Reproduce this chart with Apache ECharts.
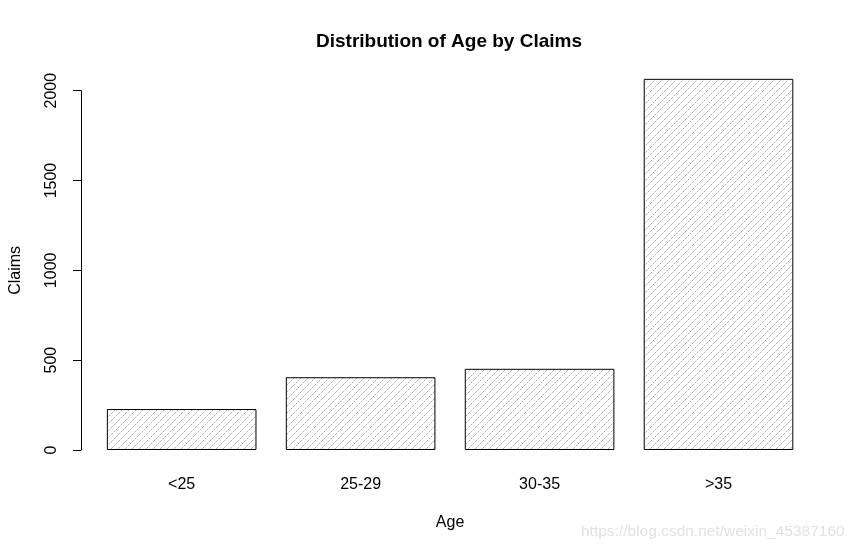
<!DOCTYPE html>
<html>
<head>
<meta charset="utf-8">
<script src="https://cdn.jsdelivr.net/npm/echarts@6/dist/echarts.min.js"></script>
<style>html,body{margin:0;padding:0;background:#fff}#c{width:861px;height:552px}</style>
</head>
<body>
<div id="c"></div>
<script>
var categories = ['<25', '25-29', '30-35', '>35'];
var claims = [228, 405, 452, 2066];
var yTicks = [0, 500, 1000, 1500, 2000];

// diagonal hatch pattern
var N = 7;
var pc = document.createElement('canvas');
pc.width = N; pc.height = N;
var px = pc.getContext('2d');
px.fillStyle = '#fff';
px.fillRect(0, 0, N, N);
for (var i = 0; i < N; i++) {
  px.fillStyle = (i % 2 === 0) ? '#b4b4b4' : '#e2e2e2';
  px.fillRect(i, N - 1 - i, 1, 1);
}

var chart = echarts.init(document.getElementById('c'), null, {renderer: 'canvas'});
var font = 'Liberation Sans, Arial, sans-serif';
chart.setOption({
  animation: false,
  backgroundColor: '#fff',
  title: {
    text: 'Distribution of Age by Claims',
    left: 444, top: 27, textAlign: 'center',
    textStyle: {fontFamily: font, fontSize: 19, fontWeight: 'bold', color: '#000'}
  },
  grid: {left: 89.5, right: 53, top: 90.7, bottom: 102, containLabel: false},
  xAxis: {
    type: 'category',
    data: categories,
    axisLine: {show: false},
    axisTick: {show: false},
    axisLabel: {margin: 27, fontFamily: font, fontSize: 16, color: '#000'},
    name: 'Age', nameLocation: 'middle', nameGap: 65,
    nameTextStyle: {fontFamily: font, fontSize: 16, color: '#000'}
  },
  yAxis: {
    type: 'value',
    min: yTicks[0], max: yTicks[yTicks.length - 1], interval: 500,
    offset: 11.2,
    splitLine: {show: false},
    axisLine: {show: true, lineStyle: {color: '#000', width: 1}},
    axisTick: {show: true, length: 8, lineStyle: {color: '#000'}},
    axisLabel: {rotate: 90, margin: 21, fontFamily: font, fontSize: 16, color: '#000',
      formatter: function (v) { return String(v); }},
    name: 'Claims', nameLocation: 'middle', nameGap: 57, nameRotate: 90,
    nameTextStyle: {fontFamily: font, fontSize: 16, color: '#000'}
  },
  series: [{
    type: 'bar',
    data: claims,
    clip: false,
    barCategoryGap: '16.4%',
    itemStyle: {
      color: {image: pc, repeat: 'repeat'},
      borderColor: '#000', borderWidth: 1
    }
  }],
  graphic: [{
    type: 'text', left: 581, top: 524,
    style: {text: 'https://blog.csdn.net/weixin_45387160', font: '15.5px ' + font, fill: '#e2e2e2'}
  }]
});
</script>
</body>
</html>
